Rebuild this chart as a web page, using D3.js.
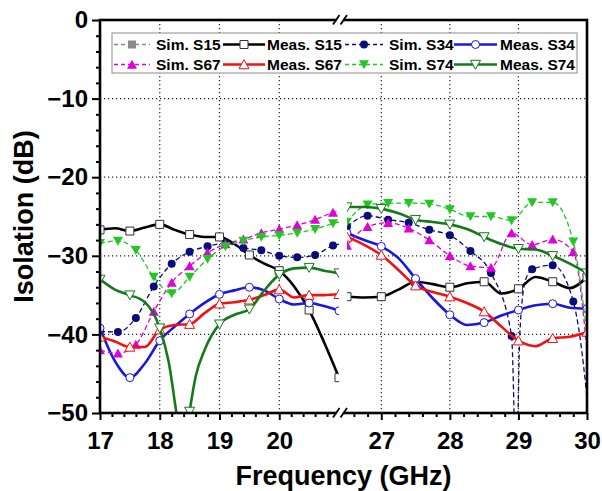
<!DOCTYPE html>
<html><head><meta charset="utf-8">
<script src="https://cdn.jsdelivr.net/npm/d3@7"></script>
<style>
body{margin:0;background:#fff}
svg{display:block}
text{font-family:"Liberation Sans",Arial,sans-serif;font-weight:bold;fill:#000}
</style>
</head><body>
<svg id="chart" width="602" height="491"></svg>
<script>
// ---------------- data ----------------
const leftDomain = [17, 21];
const rightDomain = [26.5, 30];
const xTicksLeft = [17, 18, 19, 20];
const xTicksRight = [27, 28, 29, 30];
const yTicks = [0, -10, -20, -30, -40, -50];
const xTitle = "Frequency (GHz)";
const yTitle = "Isolation (dB)";

const simS15 = [];
const measS15 = [[17,-26.7],[17.25,-26.5],[17.5,-26.85],[17.75,-26.4],[18,-26.0],[18.25,-26.7],[18.5,-27.3],[18.75,-27.6],[19,-27.6],[19.25,-28.5],[19.5,-29.9],[19.75,-31.0],[20,-31.9],[20.25,-33.9],[20.5,-36.9],[20.75,-41.0],[21,-45.5],
 [26.5,-35.2],[26.75,-35.3],[27,-35.2],[27.25,-34.3],[27.5,-33.3],[27.75,-33.6],[28,-34.0],[28.25,-33.5],[28.5,-33.3],[28.75,-34.8],[29,-34.2],[29.25,-32.7],[29.5,-33.3],[29.75,-34.1],[30,-32.7]];
const simS34 = [[17,-39.6],[17.3,-39.7],[17.6,-37.9],[17.9,-33.9],[18.2,-31.0],[18.5,-29.5],[18.8,-28.8],[19.1,-28.4],[19.4,-29.0],[19.7,-29.3],[20,-30.0],[20.3,-30.2],[20.6,-29.9],[20.9,-28.7],[21,-28.5],
 [26.5,-26.3],[26.8,-24.9],[27.1,-25.4],[27.4,-25.8],[27.7,-26.7],[28,-27.4],[28.3,-29.4],[28.6,-32.2],[28.9,-40.2],[28.97,-58],[29.02,-40],[29.1,-33.2],[29.2,-31.7],[29.5,-31.2],[29.8,-35.8],[29.9,-40.5],[30,-48]];
const measS34 = [[17,-39.2],[17.25,-43.4],[17.5,-45.5],[17.75,-43.7],[18,-40.8],[18.25,-39.0],[18.5,-37.4],[18.75,-36.0],[19,-34.9],[19.25,-34.4],[19.5,-34.0],[19.75,-34.4],[20,-35.5],[20.25,-36.2],[20.5,-36.0],[20.75,-36.4],[21,-37.0],
 [26.5,-27.1],[26.75,-28.0],[27,-28.8],[27.25,-30.3],[27.5,-32.9],[27.75,-35.4],[28,-37.5],[28.25,-38.8],[28.5,-38.5],[28.75,-37.6],[29,-36.9],[29.25,-36.3],[29.5,-36.1],[29.75,-36.6],[30,-36.7]];
const simS67 = [[17,-42.0],[17.3,-42.4],[17.6,-41.3],[17.9,-37.1],[18.2,-33.4],[18.5,-31.3],[18.8,-29.6],[19.1,-28.5],[19.4,-27.9],[19.7,-27.1],[20,-26.6],[20.3,-26.1],[20.6,-25.4],[20.9,-24.5],[21,-24.3],
 [26.5,-28.7],[26.8,-26.3],[27.1,-25.8],[27.4,-26.5],[27.7,-28.0],[28,-30.0],[28.3,-31.3],[28.6,-31.5],[28.9,-27.1],[29.2,-28.6],[29.5,-27.9],[29.8,-29.5],[30,-42]];
const measS67 = [[17,-40.3],[17.25,-40.9],[17.5,-41.6],[17.75,-41.6],[18,-39.4],[18.25,-38.8],[18.5,-38.7],[18.75,-37.3],[19,-36.1],[19.25,-35.9],[19.5,-35.6],[19.75,-35.0],[20,-34.3],[20.25,-35.3],[20.5,-35.0],[20.75,-35.0],[21,-34.9],
 [26.5,-27.6],[26.75,-28.6],[27,-29.9],[27.25,-31.8],[27.5,-33.8],[27.75,-34.6],[28,-35.2],[28.25,-36.0],[28.5,-37.1],[28.75,-39.0],[29,-40.8],[29.25,-41.5],[29.5,-40.5],[29.75,-40.3],[30,-39.7]];
const simS74 = [[17,-28.4],[17.3,-28.1],[17.6,-29.3],[17.9,-32.7],[18.2,-34.8],[18.5,-32.7],[18.8,-30.4],[19.1,-28.8],[19.4,-28.1],[19.7,-27.6],[20,-27.4],[20.3,-27.1],[20.6,-26.6],[20.9,-25.9],[21,-25.7],
 [26.5,-25.7],[26.8,-23.5],[27.1,-23.3],[27.4,-23.3],[27.7,-23.4],[28,-24.1],[28.3,-25.0],[28.6,-25.0],[28.9,-25.5],[29.2,-23.2],[29.5,-23.2],[29.8,-28.2],[30,-40]];
const measS74 = [[17,-33.0],[17.25,-34.3],[17.5,-35.0],[17.75,-35.9],[18,-39.2],[18.15,-43.5],[18.3,-51],[18.4,-55],[18.5,-49.8],[18.6,-45.4],[18.75,-42.0],[19,-38.7],[19.25,-37.5],[19.5,-36.8],[19.75,-34.4],[20,-32.4],[20.25,-31.6],[20.5,-31.5],[20.75,-31.9],[21,-32.2],
 [26.5,-23.8],[26.75,-23.8],[27,-24.0],[27.25,-24.6],[27.5,-25.4],[27.75,-25.7],[28,-26.0],[28.25,-26.6],[28.5,-27.6],[28.75,-28.5],[29,-29.1],[29.25,-29.2],[29.5,-30.0],[29.75,-31.0],[30,-32.2]];

const series = [
  {name:"Sim. S15",  data:simS15,  color:"#8a8a8a", sim:true,  marker:"square"},
  {name:"Meas. S15", data:measS15, color:"#000000", sim:false, marker:"square", mstroke:"#333"},
  {name:"Sim. S34",  data:simS34,  color:"#0b0b7a", sim:true,  marker:"circle"},
  {name:"Meas. S34", data:measS34, color:"#1717e0", sim:false, marker:"circle"},
  {name:"Sim. S67",  data:simS67,  color:"#e000d8", sim:true,  marker:"up"},
  {name:"Meas. S67", data:measS67, color:"#f01212", sim:false, marker:"up"},
  {name:"Sim. S74",  data:simS74,  color:"#22c822", sim:true,  marker:"down"},
  {name:"Meas. S74", data:measS74, color:"#137a18", sim:false, marker:"down"}
];

// ---------------- layout ----------------
const X0 = 100, X1 = 587, Y0 = 20, Y1 = 413;
const LX1 = 339, RX0 = 347;
const svg = d3.select("#chart");
const xL = d3.scaleLinear().domain(leftDomain).range([X0, LX1]);
const xR = d3.scaleLinear().domain(rightDomain).range([RX0, X1]);
const y = d3.scaleLinear().domain([-50, 0]).range([Y1, Y0]);
const fmt = d3.format("d");

const defs = svg.append("defs");
defs.append("clipPath").attr("id","clipL").append("rect").attr("x",X0).attr("y",Y0).attr("width",LX1-X0).attr("height",Y1-Y0);
defs.append("clipPath").attr("id","clipR").append("rect").attr("x",RX0).attr("y",Y0).attr("width",X1-RX0).attr("height",Y1-Y0);

// grid
const grid = svg.append("g").attr("stroke","#222").attr("stroke-width",1.2).attr("stroke-dasharray","1.2,2.8");
yTicks.filter(v => v > -50 && v < 0).forEach(v => {
  grid.append("line").attr("x1",X0).attr("x2",X1).attr("y1",y(v)).attr("y2",y(v));
});
xTicksLeft.filter(v => v > leftDomain[0]).forEach(v => {
  grid.append("line").attr("x1",xL(v)).attr("x2",xL(v)).attr("y1",Y0).attr("y2",Y1);
});
xTicksRight.filter(v => v < rightDomain[1]).forEach(v => {
  grid.append("line").attr("x1",xR(v)).attr("x2",xR(v)).attr("y1",Y0).attr("y2",Y1);
});

// markers
function markerPath(type){
  switch(type){
    case "square": return "M-4,-4H4V4H-4Z";
    case "circle": return "M4,0A4,4 0 1,1 -4,0A4,4 0 1,1 4,0Z";
    case "up": return "M0,-4.8L5,4.2L-5,4.2Z";
    case "down": return "M0,4.8L5,-4.2L-5,-4.2Z";
  }
}
function isMarker(d, s){
  if (s.sim){
    const start = d[0] <= leftDomain[1] ? leftDomain[0] : rightDomain[0];
    const k = (d[0]-start)/0.3;
    return Math.abs(k-Math.round(k)) < 1e-6;
  }
  const k = d[0]*2;
  return Math.abs(k-Math.round(k)) < 1e-6;
}

const plot = svg.append("g");
const parts = [
  {x:xL, clip:"url(#clipL)", test:d => d[0] <= leftDomain[1]},
  {x:xR, clip:"url(#clipR)", test:d => d[0] >= rightDomain[0]}
];
series.forEach(s => {
  parts.forEach(p => {
    const pts = s.data.filter(p.test);
    if (!pts.length) return;
    const g = plot.append("g").attr("clip-path", p.clip);
    const line = d3.line().x(d => p.x(d[0])).y(d => y(d[1])).curve(d3.curveMonotoneX);
    g.append("path").attr("d", line(pts)).attr("fill","none")
      .attr("stroke", s.color).attr("stroke-width", s.sim ? 1.3 : 2.6)
      .attr("stroke-dasharray", s.sim ? "5,3" : null).attr("stroke-linejoin","round");
    g.selectAll("path.m").data(pts.filter(d => isMarker(d, s))).join("path").attr("class","m")
      .attr("transform", d => `translate(${p.x(d[0])},${y(d[1])})`)
      .attr("d", markerPath(s.marker))
      .attr("fill", s.sim ? s.color : "#fff")
      .attr("stroke", s.sim ? "none" : (s.mstroke || s.color)).attr("stroke-width", 1);
  });
});

// axes
const axisStyle = g => {
  g.select(".domain").remove();
  g.selectAll(".tick line").attr("stroke","#000").attr("stroke-width",2);
  g.selectAll(".tick text").style("font-size","24px").attr("fill","#000");
};
const minorL = d3.range(17.2, 21, 0.2).filter(v => Math.abs(v - Math.round(v)) > 1e-6);
const minorR = d3.range(26.6, 30, 0.2).filter(v => Math.abs(v - Math.round(v)) > 1e-6);
svg.append("g").attr("transform",`translate(0,${Y1})`)
  .call(d3.axisBottom(xL).tickValues(minorL).tickSize(4).tickFormat("")).call(axisStyle);
svg.append("g").attr("transform",`translate(0,${Y1})`)
  .call(d3.axisBottom(xR).tickValues(minorR).tickSize(4).tickFormat("")).call(axisStyle);
svg.append("g").attr("transform",`translate(0,${Y1})`)
  .call(d3.axisBottom(xL).tickValues(xTicksLeft).tickSize(7).tickPadding(11.5).tickFormat(fmt)).call(axisStyle);
svg.append("g").attr("transform",`translate(0,${Y1})`)
  .call(d3.axisBottom(xR).tickValues(xTicksRight).tickSize(7).tickPadding(11.5).tickFormat(fmt)).call(axisStyle);
const minorY = d3.range(-48, 0, 2).filter(v => v % 10 !== 0);
svg.append("g").attr("transform",`translate(${X0},0)`)
  .call(d3.axisLeft(y).tickValues(minorY).tickSize(4).tickFormat("")).call(axisStyle);
svg.append("g").attr("transform",`translate(${X0},0)`)
  .call(d3.axisLeft(y).tickValues(yTicks).tickSize(8).tickPadding(4).tickFormat(fmt)).call(axisStyle);

// frame
const frame = svg.append("g").attr("stroke","#000").attr("stroke-width",2.6).attr("fill","none");
frame.append("rect").attr("x",X0).attr("y",Y0).attr("width",X1-X0).attr("height",Y1-Y0);
// axis breaks
[Y0, Y1].forEach(yy => {
  svg.append("rect").attr("x",336.5).attr("y",yy-2).attr("width",7).attr("height",4).attr("fill","#fff");
  svg.append("line").attr("x1",333).attr("y1",yy+4.5).attr("x2",339.5).attr("y2",yy-5).attr("stroke","#000").attr("stroke-width",1.8);
  svg.append("line").attr("x1",340.5).attr("y1",yy+4.5).attr("x2",347).attr("y2",yy-5).attr("stroke","#000").attr("stroke-width",1.8);
});

// titles
svg.append("text").attr("x",(X0+X1)/2).attr("y",484.5).attr("text-anchor","middle")
  .style("font-size","27px").text(xTitle);
svg.append("text").attr("transform",`translate(33,${(Y0+Y1)/2}) rotate(-90)`).attr("text-anchor","middle")
  .style("font-size","27px").text(yTitle);

// legend
const leg = svg.append("g");
leg.append("rect").attr("x",112).attr("y",33).attr("width",465).attr("height",40)
  .attr("fill","#fff").attr("stroke","#8c8c8c").attr("stroke-width",1);
const cols = [{l0:114,l1:150,tx:156},{l0:223,l1:265,tx:267},{l0:345,l1:383,tx:389},{l0:454,l1:497,tx:500}];
const rows = [44.5, 64.5];
series.forEach((s, i) => {
  const c = cols[i % 4], r = rows[Math.floor(i / 4)];
  const g = leg.append("g");
  g.append("line").attr("x1",c.l0).attr("x2",c.l1).attr("y1",r).attr("y2",r)
    .attr("stroke",s.color).attr("stroke-width", s.sim ? 1.3 : 2.6)
    .attr("stroke-dasharray", s.sim ? "4,3" : null);
  g.append("path").attr("transform",`translate(${(c.l0+c.l1)/2},${r})`).attr("d",markerPath(s.marker))
    .attr("fill", s.sim ? s.color : "#fff")
    .attr("stroke", s.sim ? "none" : (s.mstroke || s.color)).attr("stroke-width",1);
  g.append("text").attr("x",c.tx).attr("y",r+5.6).style("font-size","15.5px").text(s.name);
});
</script>
</body></html>
